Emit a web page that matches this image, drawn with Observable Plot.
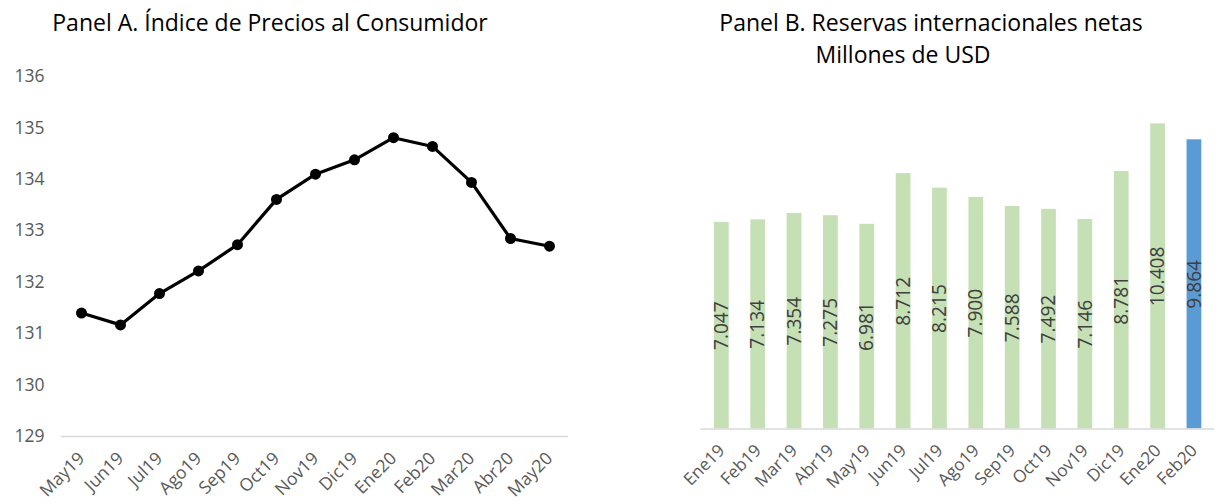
<!DOCTYPE html>
<html>
<head>
<meta charset="utf-8">
<script src="https://cdn.jsdelivr.net/npm/d3@7"></script>
<script src="https://cdn.jsdelivr.net/npm/@observablehq/plot@0.6"></script>
<style>
  html, body { margin: 0; padding: 0; background: #fff; overflow: hidden; }
  body { width: 1219px; height: 504px; position: relative; font-family: "Open Sans", sans-serif; }
  .title { position: absolute; font-size: 23px; line-height: 23px; color: #000; text-align: center; white-space: nowrap; }
  .panel { position: absolute; top: 60px; }
</style>
</head>
<body>
<div class="title" style="left:0px; width:540px; top:11px;">Panel A. Índice de Precios al Consumidor</div>
<div class="title" style="left:690px; width:482px; top:11px;">Panel B. Reservas internacionales netas</div>
<div class="title" style="left:690px; width:426px; top:43px;">Millones de USD</div>
<div id="a" class="panel" style="left:0px;"></div>
<div id="b" class="panel" style="left:600px;"></div>
<script>
// Panel A data
const monthsA = ["May19","Jun19","Jul19","Ago19","Sep19","Oct19","Nov19","Dic19","Ene20","Feb20","Mar20","Abr20","May20"];
const ipc = [131.40, 131.17, 131.78, 132.22, 132.73, 133.61, 134.10, 134.38, 134.81, 134.64, 133.94, 132.85, 132.70];
const ticksA = [129, 130, 131, 132, 133, 134, 135, 136];

// Panel B data
const monthsB = ["Ene19","Feb19","Mar19","Abr19","May19","Jun19","Jul19","Ago19","Sep19","Oct19","Nov19","Dic19","Ene20","Feb20"];
const rin = [7047, 7134, 7354, 7275, 6981, 8712, 8215, 7900, 7588, 7492, 7146, 8781, 10408, 9864];
const highlight = ["Feb20"];

const dataA = monthsA.map((m, i) => ({month: m, value: ipc[i]}));
const dataB = monthsB.map((m, i) => ({month: m, value: rin[i], hl: highlight.includes(m)}));

const es = d3.formatLocale({decimal: ",", thousands: ".", grouping: [3], currency: ["", ""]});
const fmt = es.format(",");

const tickColor = "#595959";

const plotA = Plot.plot({
  width: 600,
  height: 444,
  marginLeft: 61,
  marginRight: 32,
  marginTop: 16,
  marginBottom: 68,
  style: {fontFamily: "Open Sans", fontSize: "17.5px", color: tickColor, background: "transparent", overflow: "visible"},
  x: {type: "point", domain: monthsA, padding: 0.5, label: null},
  y: {domain: [129, 136], label: null},
  marks: [
    Plot.ruleY([129], {stroke: "#d9d9d9", strokeWidth: 1.5}),
    Plot.axisY({ticks: ticksA, tickFormat: d3.format("d"), tickSize: 0, tickPadding: 17, label: null, fill: tickColor, fontSize: 17.5}),
    Plot.axisX({tickSize: 0, tickPadding: 19, tickRotate: -45, label: null, fill: tickColor, fontSize: 17.5}),
    Plot.line(dataA, {x: "month", y: "value", stroke: "#000", strokeWidth: 3.2}),
    Plot.dot(dataA, {x: "month", y: "value", r: 5.5, fill: "#000", stroke: "none"})
  ]
});
document.getElementById("a").appendChild(plotA);

const plotB = Plot.plot({
  width: 630,
  height: 444,
  marginLeft: 102,
  marginRight: 5,
  marginTop: 17,
  marginBottom: 69,
  style: {fontFamily: "Open Sans", fontSize: "17.5px", color: tickColor, background: "transparent"},
  x: {type: "band", domain: monthsB, paddingInner: 0.6, paddingOuter: 0.31, label: null},
  y: {domain: [0, 12000], label: null, axis: null},
  marks: [
    Plot.barY(dataB, {x: "month", y: "value", fill: d => d.hl ? "#5B9BD5" : "#C5E0B4"}),
    Plot.ruleY([0], {stroke: "#d9d9d9", strokeWidth: 1.5}),
    Plot.text(dataB, {x: "month", y: d => d.value / 2, text: d => fmt(d.value), rotate: -90, fontSize: 19.5, fill: "#404040"}),
    Plot.axisX({tickSize: 0, tickPadding: 19, tickRotate: -45, label: null, fill: tickColor, fontSize: 17.5})
  ]
});
document.getElementById("b").appendChild(plotB);
</script>
</body>
</html>
